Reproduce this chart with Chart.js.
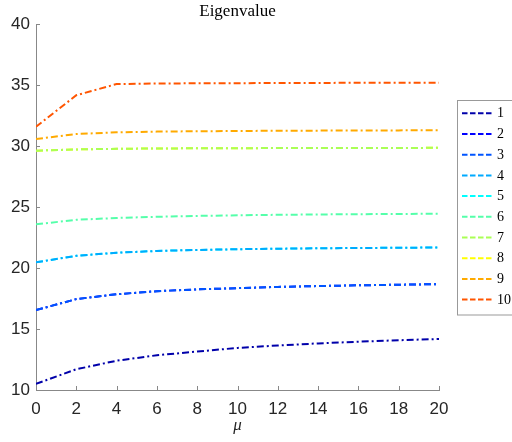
<!DOCTYPE html>
<html>
<head>
<meta charset="utf-8">
<script src="https://cdn.jsdelivr.net/npm/chart.js@4/dist/chart.umd.min.js"></script>
<style>
  html, body { margin: 0; padding: 0; background: #fff; overflow: hidden; }
  #wrap { width: 512px; height: 442px; }
</style>
</head>
<body>
<div id="wrap"><canvas id="chart" width="512" height="442"></canvas></div>
<script>
// Data
const muValues = [0, 2, 4, 6, 8, 10, 12, 14, 16, 18, 20];
const seriesNames = ['1', '2', '3', '4', '5', '6', '7', '8', '9', '10'];
const eig1 = [10.5, 11.7, 12.4, 12.85, 13.15, 13.45, 13.65, 13.82, 13.96, 14.08, 14.18];
const eig2 = [16.55, 17.45, 17.85, 18.1, 18.25, 18.35, 18.45, 18.52, 18.58, 18.63, 18.68];
const eig3 = [16.55, 17.45, 17.85, 18.1, 18.25, 18.35, 18.45, 18.52, 18.58, 18.63, 18.68];
const eig4 = [20.47, 21.0, 21.25, 21.4, 21.48, 21.54, 21.58, 21.62, 21.64, 21.66, 21.68];
const eig5 = [20.47, 21.0, 21.25, 21.4, 21.48, 21.54, 21.58, 21.62, 21.64, 21.66, 21.68];
const eig6 = [23.58, 23.95, 24.1, 24.2, 24.27, 24.32, 24.36, 24.39, 24.41, 24.43, 24.45];
const eig7 = [29.62, 29.72, 29.77, 29.8, 29.81, 29.82, 29.83, 29.83, 29.84, 29.84, 29.85];
const eig8 = [29.62, 29.72, 29.77, 29.8, 29.81, 29.82, 29.83, 29.83, 29.84, 29.84, 29.85];
const eig9 = [30.57, 30.98, 31.12, 31.18, 31.21, 31.23, 31.25, 31.26, 31.27, 31.28, 31.29];
const eig10 = [31.58, 34.16, 35.08, 35.12, 35.14, 35.15, 35.16, 35.17, 35.18, 35.18, 35.19];
const allSeries = [eig1, eig2, eig3, eig4, eig5, eig6, eig7, eig8, eig9, eig10];

// jet(10) colours
const jetColors = ['#0000aa', '#0000ff', '#0055ff', '#00aaff', '#00ffff',
                   '#55ffaa', '#aaff55', '#ffff00', '#ffaa00', '#ff5500'];

const axisColor = '#888888';
const textColor = '#262626';

const datasets = allSeries.map((vals, i) => ({
    label: seriesNames[i],
    data: muValues.map((m, j) => ({ x: m, y: vals[j] })),
    borderColor: jetColors[i],
    backgroundColor: jetColors[i],
    borderWidth: 2,
    borderDash: [7, 3, 2, 3],
    pointRadius: 0,
    tension: 0,
    fill: false,
    order: i === 1 ? 1 : 0
}));

// title, inward ticks and boxed legend
const decorations = {
    id: 'decorations',
    afterDraw(chart) {
        const { ctx, chartArea, scales } = chart;
        ctx.save();

        // inward tick marks
        ctx.strokeStyle = axisColor;
        ctx.lineWidth = 1;
        ctx.setLineDash([]);
        ctx.beginPath();
        scales.x.ticks.forEach(t => {
            const px = Math.round(scales.x.getPixelForValue(t.value)) + 0.5;
            ctx.moveTo(px, chartArea.bottom);
            ctx.lineTo(px, chartArea.bottom - 4);
        });
        scales.y.ticks.forEach(t => {
            const py = Math.round(scales.y.getPixelForValue(t.value)) + 0.5;
            ctx.moveTo(chartArea.left, py);
            ctx.lineTo(chartArea.left + 4, py);
        });
        ctx.stroke();

        // title
        ctx.fillStyle = '#000';
        ctx.font = '17px "Liberation Serif", serif';
        ctx.textAlign = 'center';
        ctx.textBaseline = 'alphabetic';
        ctx.fillText('Eigenvalue', (chartArea.left + chartArea.right) / 2, 16);

        // legend
        const boxLeft = 457.5, boxTop = 100.5, boxBottom = 315;
        ctx.strokeStyle = '#999999';
        ctx.strokeRect(boxLeft, boxTop, 100, boxBottom - boxTop);
        ctx.font = '14px "Liberation Serif", serif';
        ctx.textAlign = 'left';
        ctx.textBaseline = 'middle';
        chart.data.datasets.forEach((ds, i) => {
            const y = 113.3 + 20.7 * i;
            ctx.strokeStyle = ds.borderColor;
            ctx.lineWidth = 2;
            ctx.setLineDash([5.5, 2.5]);
            ctx.beginPath();
            ctx.moveTo(462, y);
            ctx.lineTo(492, y);
            ctx.stroke();
            ctx.setLineDash([]);
            ctx.fillStyle = '#000';
            ctx.fillText(ds.label, 497, y + 0.5);
        });
        ctx.restore();
    }
};

new Chart(document.getElementById('chart').getContext('2d'), {
    type: 'line',
    data: { datasets },
    options: {
        responsive: false,
        animation: false,
        layout: { padding: { top: 24, right: 73, bottom: 0, left: 0 } },
        plugins: {
            legend: { display: false },
            tooltip: { enabled: false }
        },
        scales: {
            x: {
                type: 'linear',
                min: 0,
                max: 20,
                ticks: {
                    stepSize: 2,
                    color: textColor,
                    padding: 9,
                    maxRotation: 0,
                    font: { family: '"Liberation Sans", Arial, sans-serif', size: 17 }
                },
                grid: { display: false, drawTicks: false },
                border: { display: true, color: axisColor, width: 1 },
                title: {
                    display: true,
                    text: 'μ',
                    color: textColor,
                    padding: { top: 0, bottom: 6 },
                    font: { family: '"Liberation Serif", serif', size: 17, style: 'italic' }
                },
                afterFit: s => { s.height = 52; }
            },
            y: {
                min: 10,
                max: 40,
                ticks: {
                    stepSize: 5,
                    color: textColor,
                    padding: 6,
                    font: { family: '"Liberation Sans", Arial, sans-serif', size: 17 }
                },
                grid: { display: false, drawTicks: false },
                border: { display: true, color: axisColor, width: 1 },
                afterFit: s => { s.width = 36; }
            }
        }
    },
    plugins: [decorations]
});
</script>
</body>
</html>
